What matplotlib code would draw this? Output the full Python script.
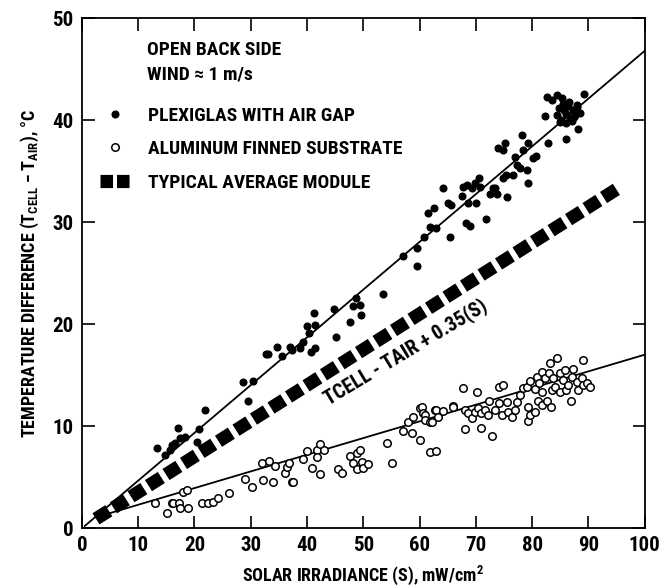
import matplotlib
matplotlib.use("Agg")
import matplotlib.pyplot as plt
from matplotlib.lines import Line2D
from matplotlib import font_manager

# pick a condensed sans if one is installed
fonts = font_manager.fontManager.ttflist
names = {f.name for f in fonts}
stretch = 'normal'
face = 'Liberation Sans'
for cand in ['Liberation Sans Narrow', 'Roboto Condensed', 'Open Sans Condensed']:
    if cand in names:
        face = cand
        break
else:
    if any(f.name == 'DejaVu Sans' and 'condensed' in str(f.stretch) for f in fonts):
        face, stretch = 'DejaVu Sans', 'condensed'
plt.rcParams['font.family'] = [face, 'DejaVu Sans']
plt.rcParams['font.stretch'] = stretch
plt.rcParams['font.weight'] = 'bold'
plt.rcParams['axes.labelweight'] = 'bold'
plt.rcParams['mathtext.fontset'] = 'custom'
plt.rcParams['mathtext.rm'] = face + ':bold'
plt.rcParams['mathtext.it'] = face + ':bold'
plt.rcParams['mathtext.default'] = 'rm'

# Plexiglas with air gap (filled dots)
plex_x = [13.3, 14.7, 15.6, 16.0, 16.5, 17.1, 17.4, 18.3, 20.4, 20.8, 21.8,
          28.6, 29.5, 30.4, 32.7, 33.0, 34.6, 35.5, 36.9, 37.3, 38.7, 39.3,
          40.0, 40.3, 40.7, 41.2, 41.4, 41.4, 44.8, 45.1, 47.6, 48.1, 48.7,
          49.4, 49.6, 53.5, 57.0, 59.5, 59.5, 60.7, 61.5, 61.8, 62.5, 63.0,
          64.1, 65.0, 65.4, 65.5, 67.5, 67.7, 68.2, 68.4, 68.6, 68.9, 69.3,
          69.8, 70.0, 70.5, 70.7, 71.8, 72.5, 73.0, 73.4, 73.7, 73.9, 74.8,
          74.8, 75.1, 75.3, 75.5, 76.6, 76.9, 77.3, 77.8, 78.2, 78.3, 79.0,
          79.2, 79.2, 80.1, 80.6, 82.2, 82.6, 82.8, 83.5, 84.5, 85.3, 84.4,
          84.8, 85.2, 85.6, 86.0, 86.4, 86.8, 87.2, 87.6, 88.0, 88.5, 85.0,
          86.0, 87.0, 88.0, 86.5, 85.5, 87.5, 86.0, 88.1, 89.3]
plex_y = [7.8, 7.2, 7.7, 8.1, 8.3, 9.8, 8.8, 8.9, 8.4, 9.7, 11.6,
          14.3, 12.5, 14.4, 17.1, 17.1, 17.8, 16.9, 17.8, 17.5, 17.7, 18.2,
          19.8, 19.1, 17.3, 21.1, 17.7, 19.9, 21.5, 18.7, 20.2, 21.8, 22.6,
          21.9, 20.9, 23.0, 26.7, 25.7, 27.5, 28.5, 30.9, 29.5, 31.4, 29.4,
          33.3, 31.9, 28.5, 31.7, 32.6, 33.4, 29.9, 33.6, 31.9, 29.6, 33.3,
          33.8, 31.9, 34.3, 33.4, 30.3, 32.8, 33.3, 33.3, 32.8, 37.3, 34.3,
          37.1, 37.8, 34.6, 32.5, 34.6, 36.4, 35.6, 35.3, 38.5, 37.1, 35.1,
          33.8, 37.8, 36.3, 36.5, 40.4, 42.3, 37.8, 42.0, 42.5, 42.2, 40.5,
          41.2, 40.0, 41.0, 40.6, 41.4, 40.2, 41.0, 40.5, 41.3, 40.7, 39.8,
          39.7, 39.9, 41.5, 41.8, 41.6, 40.3, 38.2, 39.1, 42.6]

# Aluminum finned substrate (open circles)
alum_x = [13.0, 15.1, 16.0, 16.2, 17.2, 17.4, 17.9, 18.6, 18.8, 21.3, 22.4,
          23.3, 24.2, 26.1, 29.0, 30.2, 32.0, 32.1, 33.2, 33.9, 34.3, 36.0,
          36.4, 36.8, 37.3, 37.5, 39.3, 40.0, 40.9, 41.7, 41.7, 42.3, 42.3,
          43.0, 45.5, 46.2, 47.6, 48.1, 48.8, 48.8, 49.4, 49.7, 49.9, 50.8,
          54.2, 55.1, 57.0, 57.9, 58.6, 58.8, 60.0, 60.0, 60.4, 60.6, 60.9,
          60.9, 61.8, 61.8, 62.2, 62.7, 63.0, 63.0, 63.2, 64.1, 65.9, 65.9,
          67.7, 68.0, 68.0, 68.6, 69.3, 69.8, 70.2, 70.3, 71.0, 71.0, 71.6,
          72.1, 72.3, 72.8, 73.4, 74.2, 74.2, 74.6, 74.8, 75.5, 75.7, 76.4,
          76.9, 77.3, 77.8, 78.3, 79.0, 79.2, 79.2, 79.6, 79.6, 80.5, 80.5,
          80.8, 81.0, 81.2, 81.7, 81.7, 81.7, 82.2, 82.6, 83.0, 83.1, 83.3,
          83.5, 83.7, 84.0, 84.5, 84.9, 84.9, 85.4, 85.8, 86.1, 86.3, 86.9,
          87.0, 87.2, 87.9, 88.1, 88.8, 89.0, 89.0, 89.7, 90.2]
alum_y = [2.5, 1.5, 2.5, 2.5, 2.5, 2.0, 3.5, 3.7, 2.0, 2.5, 2.5,
          2.6, 2.9, 3.4, 4.8, 4.0, 6.4, 4.7, 6.6, 4.5, 6.1, 5.4,
          6.0, 6.4, 4.5, 4.5, 6.8, 7.6, 5.9, 7.7, 7.0, 8.2, 5.3,
          7.7, 5.8, 5.4, 7.1, 6.4, 7.4, 5.8, 7.7, 6.5, 5.9, 6.3,
          8.3, 6.4, 9.5, 10.4, 9.3, 10.9, 8.6, 11.8, 11.9, 11.3, 11.1,
          10.6, 10.4, 7.5, 10.4, 11.6, 11.6, 7.6, 10.9, 11.5, 12.0, 11.9,
          13.7, 11.6, 9.7, 11.3, 10.8, 11.4, 13.3, 11.8, 11.3, 9.8, 11.6,
          11.1, 12.5, 9.0, 11.6, 12.3, 13.8, 11.1, 14.0, 12.4, 11.4, 10.9,
          11.6, 12.4, 13.0, 13.7, 13.8, 11.9, 10.5, 11.1, 14.4, 11.4, 13.6,
          14.8, 12.5, 14.2, 12.1, 15.3, 13.3, 14.7, 12.5, 15.2, 16.2, 11.9,
          13.5, 14.7, 13.8, 16.7, 15.2, 13.3, 14.5, 15.5, 13.5, 14.0, 12.5,
          14.8, 15.6, 14.3, 13.5, 14.7, 14.0, 16.5, 14.2, 13.8]

# fitted lines
plex_fit_x = [0.5, 100]
plex_fit_y = [0.2, 46.8]
alum_fit_x = [4, 100]
alum_fit_y = [1.3, 17.0]
avg_x = [2.5, 95.5]
avg_y = [0.9, 33.4]

xticks = [0, 10, 20, 30, 40, 50, 60, 70, 80, 90, 100]
yticks = [0, 10, 20, 30, 40, 50]

fig = plt.figure(figsize=(6.66, 5.88), dpi=100)
ax = fig.add_axes([0.123, 0.102, 0.845, 0.867])

ax.plot(avg_x, avg_y, color='black', lw=9.5, dashes=(1.15, 0.42),
        dash_capstyle='butt', solid_capstyle='butt', zorder=2)
ax.plot(plex_fit_x, plex_fit_y, color='black', lw=1.3, zorder=3)
ax.plot(alum_fit_x, alum_fit_y, color='black', lw=1.3, zorder=3)
ax.plot(plex_x, plex_y, 'o', color='black', ms=4.8, zorder=4)
ax.plot(alum_x, alum_y, 'o', mfc='white', mec='black', mew=1.1, ms=5.4, zorder=4)

ax.set_xlim(0, 100)
ax.set_ylim(0, 50)
ax.set_xticks(xticks)
ax.set_yticks(yticks)
ax.tick_params(direction='in', length=9, width=1.2, top=True, right=True,
               labelsize=15, pad=6)
for s in ax.spines.values():
    s.set_linewidth(1.3)

ax.set_xlabel('SOLAR IRRADIANCE (S), mW/cm$^2$', fontsize=13, labelpad=6)
ax.set_ylabel('TEMPERATURE DIFFERENCE (T$_{CELL}$ − T$_{AIR}$), °C',
              fontsize=13, labelpad=8)

ax.text(0.115, 0.955, 'OPEN BACK SIDE\nWIND ≈ 1 m/s', transform=ax.transAxes,
        fontsize=14, va='top', ha='left', linespacing=1.45)

handles = [
    Line2D([], [], ls='none', marker='o', color='black', ms=4.8),
    Line2D([], [], ls='none', marker='o', mfc='white', mec='black', mew=1.1, ms=5.4),
    Line2D([], [], color='black', lw=9.5, dashes=(0.95, 0.3), dash_capstyle='butt'),
]
labels = ['PLEXIGLAS WITH AIR GAP', 'ALUMINUM FINNED SUBSTRATE', 'TYPICAL AVERAGE MODULE']
ax.legend(handles, labels, loc='upper left', bbox_to_anchor=(0.018, 0.842),
          frameon=False, fontsize=14, handlelength=1.6, handletextpad=0.88,
          labelspacing=0.8, borderaxespad=0)

ax.text(57.5, 17.3, 'TCELL - TAIR + 0.35(S)', rotation=31, fontsize=14.5,
        ha='center', va='center')

fig.savefig('out.png', dpi=100)
